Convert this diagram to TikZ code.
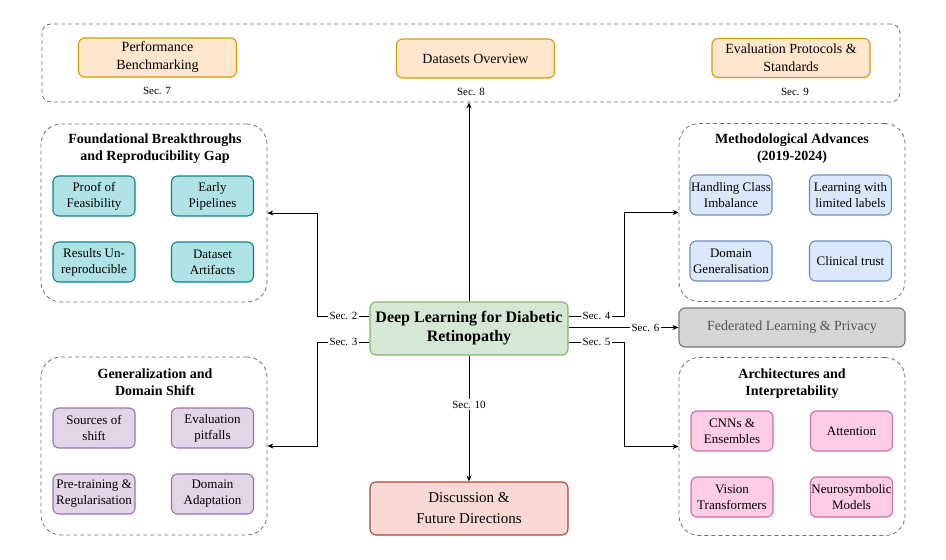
\documentclass[tikz,border=0pt]{standalone}
\usepackage{fontspec}
\setmainfont{Liberation Serif}
\usetikzlibrary{arrows.meta}
\definecolor{orF}{HTML}{FFE6CC}\definecolor{orD}{HTML}{D79B00}
\definecolor{teF}{HTML}{B0E3E6}\definecolor{teD}{HTML}{0E8088}
\definecolor{puF}{HTML}{E1D5E7}\definecolor{puD}{HTML}{9673A6}
\definecolor{blF}{HTML}{DAE8FC}\definecolor{blD}{HTML}{6C8EBF}
\definecolor{piF}{HTML}{FFCCE6}\definecolor{piD}{HTML}{CC6EAA}
\definecolor{grF}{HTML}{D5E8D4}\definecolor{grD}{HTML}{82B366}
\definecolor{reF}{HTML}{FAD9D5}\definecolor{reD}{HTML}{AE4132}
\definecolor{gyF}{HTML}{D6D6D6}\definecolor{gyD}{HTML}{777777}
\definecolor{gyT}{HTML}{555555}
\definecolor{cnt}{HTML}{707070}
\begin{document}
\begin{tikzpicture}[x=1pt,y=-1pt,
  box/.style={draw, line width=1.1pt, rounded corners=6pt, align=center, inner sep=1pt},
  topbox/.style={box, fill=orF, draw=orD, minimum width=158pt, minimum height=39pt, font=\fontsize{14}{18}\selectfont},
  inbox/.style={box, minimum width=82pt, minimum height=40pt, font=\fontsize{13}{16}\selectfont},
  tebox/.style={inbox, fill=teF, draw=teD},
  pubox/.style={inbox, fill=puF, draw=puD},
  blbox/.style={inbox, fill=blF, draw=blD},
  pibox/.style={inbox, fill=piF, draw=piD},
  cont/.style={draw=cnt, line width=0.8pt, dash pattern=on 4pt off 3pt, rounded corners=20pt, minimum width=226pt, minimum height=178pt, inner sep=0pt},
  ttl/.style={font=\fontsize{14}{17}\selectfont\bfseries, align=center, inner sep=0pt},
  sec/.style={font=\fontsize{11}{13}\selectfont, inner sep=1.5pt},
  lab/.style={sec, fill=white},
  arr/.style={draw=black, line width=0.8pt, -{Stealth[length=6pt,width=5pt]}}
]
\useasboundingbox (0,0) rectangle (946,560);

% top container
\node[cont, rounded corners=9pt, minimum width=858pt, minimum height=78pt] (top) at (471,63) {};
\node[topbox] (pb) at (157.5,57.5) {Performance\\Benchmarking};
\node[topbox] (ds) at (475.5,58.5) {Datasets Overview};
\node[topbox] (ep) at (791,58) {Evaluation Protocols \&\\Standards};
\node[sec] (s7) at (157,90.5) {Sec. 7};
\node[sec] (s8) at (471,91.5) {Sec. 8};
\node[sec] (s9) at (795,91.5) {Sec. 9};

% foundational
\node[cont] (fnd) at (154,213) {};
\node[ttl] (fndt) at (155,149) {Foundational Breakthroughs\\and Reproducibility Gap};
\node[tebox] (f1) at (94,196) {Proof of\\Feasibility};
\node[tebox] (f2) at (212.5,196) {Early\\Pipelines};
\node[tebox] (f3) at (94,262) {Results Un-\\reproducible};
\node[tebox] (f4) at (212.5,262) {Dataset\\Artifacts};

% generalization
\node[cont] (gen) at (154,446) {};
\node[ttl] (gent) at (155,382) {Generalization and\\Domain Shift};
\node[pubox] (g1) at (94,428) {Sources of\\shift};
\node[pubox] (g2) at (212.5,428) {Evaluation\\pitfalls};
\node[pubox] (g3) at (94,494) {Pre-training \&\\Regularisation};
\node[pubox] (g4) at (212.5,494) {Domain\\Adaptation};

% methodological
\node[cont] (met) at (792,212.5) {};
\node[ttl] (mett) at (792,149) {Methodological Advances\\(2019-2024)};
\node[blbox] (m1) at (731,195) {Handling Class\\Imbalance};
\node[blbox] (m2) at (850.5,195) {Learning with\\limited labels};
\node[blbox] (m3) at (731,261) {Domain\\Generalisation};
\node[blbox] (m4) at (850.5,261) {Clinical trust};

% federated
\node[box, fill=gyF, draw=gyD, text=gyT, minimum width=226pt, minimum height=39pt, font=\fontsize{14}{17}\selectfont] (fed) at (792,327.5) {Federated Learning \& Privacy};

% architectures
\node[cont] (arc) at (792,446.5) {};
\node[ttl] (arct) at (792,384) {Architectures and\\Interpretability};
\node[pibox] (a1) at (732,431) {CNNs \&\\Ensembles};
\node[pibox] (a2) at (851.5,431) {Attention};
\node[pibox] (a3) at (732,497) {Vision\\Transformers};
\node[pibox] (a4) at (851.5,497) {Neurosymbolic\\Models};

% center
\node[box, fill=grF, draw=grD, minimum width=198pt, minimum height=53pt, font=\fontsize{16}{19}\selectfont\bfseries] (ctr) at (469,328.5) {Deep Learning for Diabetic\\Retinopathy};

% discussion
\node[box, fill=reF, draw=reD, minimum width=198pt, minimum height=53pt, font=\fontsize{15}{21}\selectfont] (dis) at (469,508.5) {Discussion \&\\Future Directions};

% connectors
\draw[arr] (ctr.north) -- (ctr.north |- top.south);
\draw[arr] ([yshift=12.5pt]ctr.west) -- node[lab]{Sec. 2} ++(-52,0) |- (fnd.east);
\draw[arr] ([yshift=-13.5pt]ctr.west) -- node[lab]{Sec. 3} ++(-52,0) |- (gen.east);
\draw[arr] ([yshift=12.5pt]ctr.east) -- node[lab]{Sec. 4} ++(56,0) |- (met.west);
\draw[arr] ([yshift=-13.5pt]ctr.east) -- node[lab]{Sec. 5} ++(56,0) |- (arc.west);
\draw[arr] (ctr.east |- fed.west) -- node[lab, pos=0.7]{Sec. 6} (fed.west);
\draw[arr] (ctr.south) -- node[lab, pos=0.39]{Sec. 10} (dis.north);
\end{tikzpicture}
\end{document}
